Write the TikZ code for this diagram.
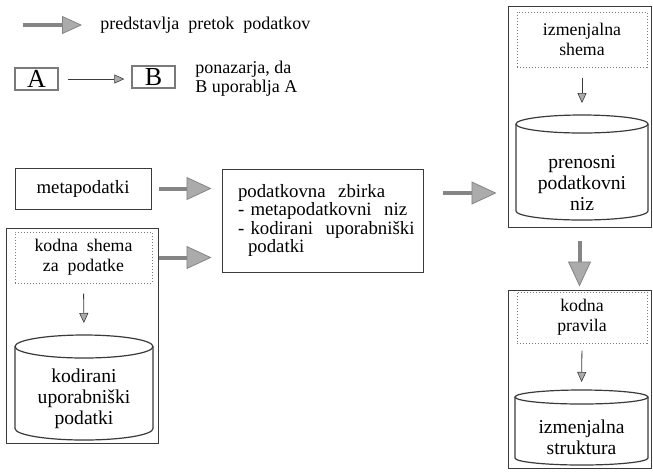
\documentclass[tikz,border=0pt]{standalone}
\usepackage{fontspec}
\setmainfont{Liberation Serif}
\usetikzlibrary{arrows.meta}
\definecolor{DFLine}{HTML}{3A3A3A}
\definecolor{DFDot}{HTML}{7A7A7A}
\definecolor{DFHead}{HTML}{ABABAB}
\definecolor{DFShaft}{HTML}{858585}

\tikzset{
  outerbox/.style={draw=DFLine,line width=0.5pt,inner sep=0pt},
  dotbox/.style={draw=DFDot,densely dotted,line width=0.5pt,align=center,
    font=\fontsize{8.9}{9.8}\selectfont},
  plainbox/.style={draw=DFLine,line width=0.5pt,font=\fontsize{9.4}{9.3}\selectfont},
  letterbox/.style={draw=DFDot,line width=0.7pt,minimum width=21.5pt,minimum height=11pt,
    inner sep=0pt,font=\fontsize{13}{13}\selectfont},
  legendtext/.style={anchor=west,inner sep=0pt,align=left,font=\fontsize{9}{9.4}\selectfont},
  dbline/.style={draw=DFLine,line width=0.6pt},
  dbtext/.style={align=center,inner sep=0pt,font=\fontsize{9.8}{10.5}\selectfont},
  flow/.style={draw=DFShaft,line width=2pt,
    -{Triangle[length=12.5pt,width=11.5pt,fill=DFHead,line width=0.4pt]}},
  uses/.style={draw=DFLine,line width=0.4pt,
    -{Triangle[length=5pt,width=4.5pt,fill=DFHead,line width=0.3pt]}},
}

\begin{document}
\begin{tikzpicture}[x=0.5pt,y=-0.5pt]
\path[use as bounding box] (0,0) rectangle (653,473);
% legend
\coordinate (lgfrom) at (23,25);
\coordinate (lgto) at (82,25);
\node[legendtext] (lgflow) at (100,25) {predstavlja\ \ pretok\ \ podatkov};
\draw[flow,-{Triangle[length=10pt,width=9pt,fill=DFHead,line width=0.4pt]}] (lgfrom) -- (lgto);
\node[letterbox] (lga) at (36.5,79) {A};
\node[letterbox] (lgb) at (153.5,77) {B};
\draw[uses,shorten <=4.5pt,shorten >=3.5pt] (lga.east) -- (lga.east -| lgb.west);
\node[legendtext] (lguse) at (195,79) {ponazarja,\ da\\B\ uporablja\ A};
% left column
\node[plainbox,minimum width=68pt,minimum height=20.5pt] (meta) at (83,188.5) {metapodatki};
\node[outerbox,minimum width=76pt,minimum height=107.5pt] (kout) at (82,335.5) {};
\node[dotbox,minimum width=68.5pt,minimum height=25.5pt] (kshema) at (83.5,257.5) {kodna\ \ shema\\za\ \ podatke};
% cylinder: kodirani uporabniski podatki
\draw[dbline] (15,346.5) -- (15,428.5) arc[start angle=180,end angle=0,x radius=69,y radius=11.5]
  -- (153,346.5);
\draw[dbline] (84,346.5) ellipse[x radius=69,y radius=11.5];
\coordinate (kuptop) at (84,335);
\node[dbtext] (kup) at (84,399) {kodirani\\uporabniški\\podatki};
\draw[uses,shorten <=5pt,shorten >=6pt] (kshema.south) -- (kuptop);
% middle
\node[plainbox,minimum height=51.5pt,text width=100.5pt,inner xsep=0pt,align=left]
  (zbirka) at (322.5,220.5)
  {\hspace*{8pt}podatkovna\ \ zbirka\\\hspace*{8pt}-\ metapodatkovni\ \ niz\\\hspace*{8pt}-\ kodirani\ \ uporabniški\\\hspace*{13pt}podatki};
\draw[flow,shorten <=3.5pt,shorten >=5pt] (meta.east) -- (meta.east -| zbirka.west);
\draw[flow,shorten >=5pt] (kshema.east -| kout.east) -- (kshema.east -| zbirka.west);
% right column, top
\node[outerbox,minimum width=71.5pt,minimum height=110.5pt] (tout) at (579.5,116.5) {};
\node[dotbox,minimum width=65pt,minimum height=27.5pt] (tshema) at (582,39.5) {izmenjalna\\shema};
\draw[dbline] (516,124) -- (516,211) arc[start angle=180,end angle=0,x radius=66,y radius=9]
  -- (648,124);
\draw[dbline] (582,124) ellipse[x radius=66,y radius=9];
\coordinate (tniztop) at (582,115);
\node[dbtext] (tniz) at (582,183) {prenosni\\podatkovni\\niz};
\draw[uses,shorten <=5pt,shorten >=6pt] (tshema.south) -- (tniztop);
\coordinate (zout) at (423,193);
\draw[flow,shorten <=10pt,shorten >=5.5pt] (zout) -- (zout -| tout.west);
% right column, bottom
\node[outerbox,minimum width=71.5pt,minimum height=89pt] (bout) at (579.5,379) {};
\node[dotbox,minimum width=65pt,minimum height=25.5pt] (bpravila) at (582,317.5) {kodna\\pravila};
\draw[dbline] (515,397) -- (515,458) arc[start angle=180,end angle=0,x radius=66.5,y radius=7]
  -- (648,397);
\draw[dbline] (581.5,397) ellipse[x radius=66.5,y radius=7];
\coordinate (bstrukttop) at (581.5,390);
\node[dbtext] (bstrukt) at (581.5,437.5) {izmenjalna\\struktura};
\draw[uses,shorten <=3.5pt,shorten >=4pt] (bpravila.south) -- (bstrukttop);
\draw[flow,shorten <=6.5pt,shorten >=1.5pt] (tout.south) -- (tout.south |- bout.north);
\end{tikzpicture}
\end{document}
